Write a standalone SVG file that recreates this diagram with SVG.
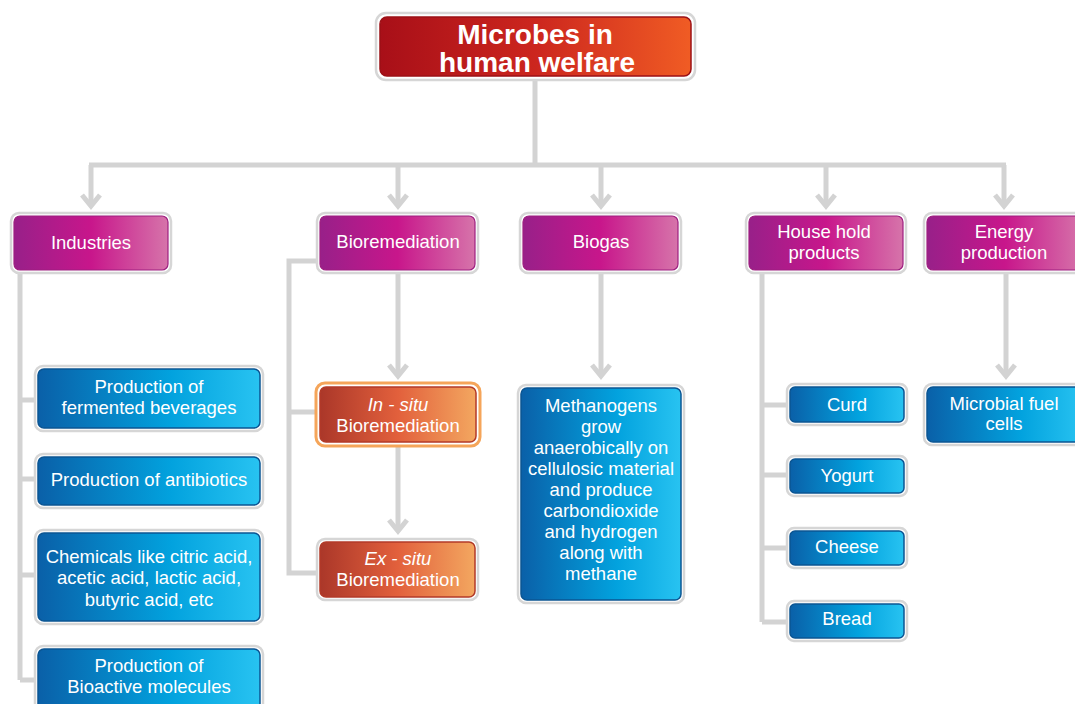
<svg xmlns="http://www.w3.org/2000/svg" width="1075" height="704" viewBox="0 0 1075 704">
<style>
.out{fill:#ffffff;stroke:#d6d6d6;stroke-width:2.5}
.mag{fill:url(#gMag);stroke:#9e1f80;stroke-width:1.2}
.blu{fill:url(#gBlu);stroke:#0b5593;stroke-width:1.5}
.org{fill:url(#gOrg);stroke:#b23a28;stroke-width:1.5}
.red{fill:url(#gRed);stroke:#9c1016;stroke-width:1.5}
.t{font-family:"Liberation Sans",Arial,sans-serif;font-size:18.5px;fill:#ffffff;text-anchor:middle}
.tt{font-family:"Liberation Sans",Arial,sans-serif;font-size:28px;font-weight:bold;fill:#ffffff;text-anchor:middle}
.c{fill:none;stroke:#d3d3d3;stroke-width:5}
</style>
<defs>
<linearGradient id="gMag" x1="0" y1="0" x2="1" y2="0">
<stop offset="0" stop-color="#982089"/><stop offset="0.5" stop-color="#c8168b"/><stop offset="1" stop-color="#d674aa"/>
</linearGradient>
<linearGradient id="gBlu" x1="0" y1="0" x2="1" y2="0">
<stop offset="0" stop-color="#0a60a8"/><stop offset="0.6" stop-color="#02a2de"/><stop offset="1" stop-color="#28c3f1"/>
</linearGradient>
<linearGradient id="gOrg" x1="0" y1="0" x2="1" y2="0">
<stop offset="0" stop-color="#ab3729"/><stop offset="0.5" stop-color="#e2603c"/><stop offset="1" stop-color="#f3a760"/>
</linearGradient>
<linearGradient id="gRed" x1="0" y1="0" x2="1" y2="0">
<stop offset="0" stop-color="#a80f18"/><stop offset="0.5" stop-color="#cc261e"/><stop offset="1" stop-color="#f05c24"/>
</linearGradient>
<marker id="arr" markerUnits="userSpaceOnUse" markerWidth="40" markerHeight="40" viewBox="-20 -20 40 40" refX="0" refY="0" orient="auto">
<path d="M-11,-9 L0,0 L-11,9" fill="none" stroke="#d3d3d3" stroke-width="5" stroke-linejoin="miter"/>
</marker>
</defs>

<g id="connectors">
<path class="c" d="M535,80 V165"/>
<path class="c" d="M89,165 H1006"/>
<path class="c" d="M91,165 V206" marker-end="url(#arr)"/>
<path class="c" d="M398,165 V206" marker-end="url(#arr)"/>
<path class="c" d="M601,165 V206" marker-end="url(#arr)"/>
<path class="c" d="M826,165 V206" marker-end="url(#arr)"/>
<path class="c" d="M1004,165 V206" marker-end="url(#arr)"/>
<path class="c" d="M20,274 V680"/>
<path class="c" d="M20,400 H36 M20,479 H36 M20,575 H36 M20,680 H36"/>
<path class="c" d="M317,261 H289 V573 H317 M289,412 H316"/>
<path class="c" d="M398,274 V376" marker-end="url(#arr)"/>
<path class="c" d="M398,447 V531" marker-end="url(#arr)"/>
<path class="c" d="M601,274 V376" marker-end="url(#arr)"/>
<path class="c" d="M762,274 V622"/>
<path class="c" d="M762,405 H787 M762,475 H787 M762,548 H787 M762,622 H787"/>
<path class="c" d="M1006,274 V376" marker-end="url(#arr)"/>
</g>

<g id="root">
<rect class="out" x="376" y="13" width="319" height="67" rx="10"/>
<rect class="red" x="380" y="17" width="311" height="59" rx="7"/>
<text class="tt" x="535" y="44">Microbes in</text>
<text class="tt" x="537" y="72">human welfare</text>
</g>

<g id="industries">
<rect class="out" x="11" y="213" width="160" height="60" rx="8"/>
<rect class="mag" x="14" y="216" width="154" height="54" rx="6"/>
<text class="t" x="91" y="249">Industries</text>
</g>
<g id="bioremediation">
<rect class="out" x="317" y="213" width="161" height="60" rx="8"/>
<rect class="mag" x="320" y="216" width="155" height="54" rx="6"/>
<text class="t" x="398" y="248">Bioremediation</text>
</g>
<g id="biogas">
<rect class="out" x="520" y="213" width="161" height="60" rx="8"/>
<rect class="mag" x="523" y="216" width="155" height="54" rx="6"/>
<text class="t" x="601" y="248">Biogas</text>
</g>
<g id="household">
<rect class="out" x="746" y="213" width="160" height="60" rx="8"/>
<rect class="mag" x="749" y="216" width="154" height="54" rx="6"/>
<text class="t" x="824" y="238">House hold</text>
<text class="t" x="824" y="259">products</text>
</g>
<g id="energy">
<rect class="out" x="924" y="213" width="162" height="60" rx="8"/>
<rect class="mag" x="927" y="216" width="156" height="54" rx="6"/>
<text class="t" x="1004" y="238">Energy</text>
<text class="t" x="1004" y="259">production</text>
</g>

<g id="fermented">
<rect class="out" x="35" y="366" width="228" height="65" rx="8"/>
<rect class="blu" x="38" y="369" width="222" height="59" rx="6"/>
<text class="t" x="149" y="393">Production of</text>
<text class="t" x="149" y="414">fermented beverages</text>
</g>
<g id="antibiotics">
<rect class="out" x="35" y="454" width="228" height="54" rx="8"/>
<rect class="blu" x="38" y="457" width="222" height="48" rx="6"/>
<text class="t" x="149" y="486">Production of antibiotics</text>
</g>
<g id="chemicals">
<rect class="out" x="35" y="530" width="228" height="94" rx="8"/>
<rect class="blu" x="38" y="533" width="222" height="88" rx="6"/>
<text class="t" x="149" y="563">Chemicals like citric acid,</text>
<text class="t" x="149" y="584">acetic acid, lactic acid,</text>
<text class="t" x="149" y="606">butyric acid, etc</text>
</g>
<g id="bioactive">
<rect class="out" x="35" y="646" width="228" height="70" rx="8"/>
<rect class="blu" x="38" y="649" width="222" height="64" rx="6"/>
<text class="t" x="149" y="672">Production of</text>
<text class="t" x="149" y="693">Bioactive molecules</text>
</g>

<g id="insitu">
<rect x="316" y="383" width="164" height="63" rx="9" fill="#ffffff" stroke="#f5a55a" stroke-width="3"/>
<rect class="org" x="320" y="387" width="156" height="55" rx="6"/>
<text class="t" x="398" y="411"><tspan font-style="italic">In - situ</tspan></text>
<text class="t" x="398" y="432">Bioremediation</text>
</g>
<g id="exsitu">
<rect class="out" x="317" y="539" width="161" height="61" rx="8"/>
<rect class="org" x="320" y="542" width="155" height="55" rx="6"/>
<text class="t" x="398" y="565"><tspan font-style="italic">Ex - situ</tspan></text>
<text class="t" x="398" y="586">Bioremediation</text>
</g>

<g id="methanogens">
<rect class="out" x="518" y="385" width="166" height="218" rx="8"/>
<rect class="blu" x="521" y="388" width="160" height="212" rx="6"/>
<text class="t" x="601" y="412">Methanogens</text>
<text class="t" x="601" y="433">grow</text>
<text class="t" x="601" y="454">anaerobically on</text>
<text class="t" x="601" y="475">cellulosic material</text>
<text class="t" x="601" y="496">and produce</text>
<text class="t" x="601" y="517">carbondioxide</text>
<text class="t" x="601" y="538">and hydrogen</text>
<text class="t" x="601" y="559">along with</text>
<text class="t" x="601" y="580">methane</text>
</g>

<g id="curd">
<rect class="out" x="787" y="384" width="120" height="41" rx="7"/>
<rect class="blu" x="790" y="387" width="114" height="35" rx="5"/>
<text class="t" x="847" y="411">Curd</text>
</g>
<g id="yogurt">
<rect class="out" x="787" y="456" width="120" height="40" rx="7"/>
<rect class="blu" x="790" y="459" width="114" height="34" rx="5"/>
<text class="t" x="847" y="482">Yogurt</text>
</g>
<g id="cheese">
<rect class="out" x="787" y="528" width="120" height="40" rx="7"/>
<rect class="blu" x="790" y="531" width="114" height="34" rx="5"/>
<text class="t" x="847" y="553">Cheese</text>
</g>
<g id="bread">
<rect class="out" x="787" y="601" width="120" height="40" rx="7"/>
<rect class="blu" x="790" y="604" width="114" height="34" rx="5"/>
<text class="t" x="847" y="625">Bread</text>
</g>

<g id="fuelcells">
<rect class="out" x="924" y="384" width="162" height="61" rx="8"/>
<rect class="blu" x="927" y="387" width="156" height="55" rx="6"/>
<text class="t" x="1004" y="410">Microbial fuel</text>
<text class="t" x="1004" y="430">cells</text>
</g>
</svg>
